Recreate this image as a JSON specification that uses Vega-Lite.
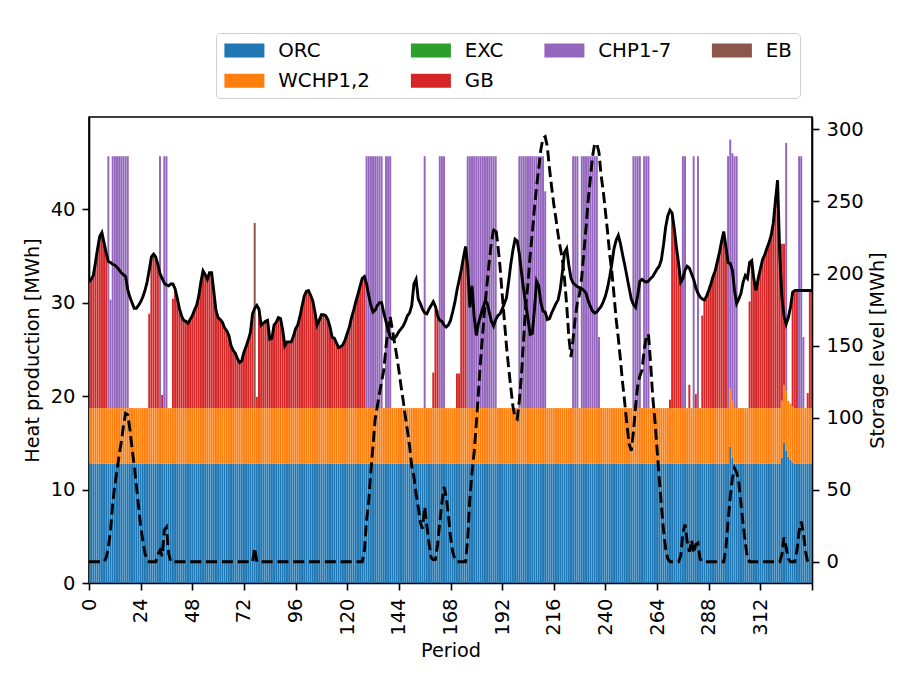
{
  "$schema": "https://vega.github.io/schema/vega-lite/v6.json",
  "width": 723,
  "height": 466,
  "autosize": {"type": "none"},
  "padding": {"left": 89, "top": 117, "right": 101, "bottom": 102},
  "background": "white",
  "data": {
    "values": [
      {"t":0,"orc":12.75,"wchp":5.97,"gb":13.5,"d":32.2,"s":0},
      {"t":1,"orc":12.75,"wchp":5.97,"gb":13.8,"d":32.5,"s":0},
      {"t":2,"orc":12.75,"wchp":5.97,"gb":14.2,"d":32.9,"s":0},
      {"t":3,"orc":12.75,"wchp":5.97,"gb":15.6,"d":34.3,"s":0},
      {"t":4,"orc":12.75,"wchp":5.97,"gb":17.1,"d":35.8,"s":0},
      {"t":5,"orc":12.75,"wchp":5.97,"gb":18.4,"d":37.1,"s":0},
      {"t":6,"orc":12.75,"wchp":5.97,"gb":18.8,"d":37.5,"s":0},
      {"t":7,"orc":12.75,"wchp":5.97,"gb":17.7,"d":36.4,"s":0},
      {"t":8,"orc":12.75,"wchp":5.97,"gb":16.6,"d":35.3,"s":3},
      {"t":9,"orc":12.75,"wchp":5.97,"chp":26.95,"d":34.4,"s":10},
      {"t":10,"orc":12.75,"wchp":5.97,"chp":11.6,"d":34.3,"s":22},
      {"t":11,"orc":12.75,"wchp":5.97,"chp":26.95,"d":34.1,"s":40},
      {"t":12,"orc":12.75,"wchp":5.97,"chp":26.95,"d":34.0,"s":53},
      {"t":13,"orc":12.75,"wchp":5.97,"chp":26.95,"d":33.8,"s":63},
      {"t":14,"orc":12.75,"wchp":5.97,"chp":26.95,"d":33.5,"s":74},
      {"t":15,"orc":12.75,"wchp":5.97,"chp":26.95,"d":33.2,"s":83},
      {"t":16,"orc":12.75,"wchp":5.97,"chp":26.95,"d":33.0,"s":94},
      {"t":17,"orc":12.75,"wchp":5.97,"chp":26.95,"d":32.8,"s":103},
      {"t":18,"orc":12.75,"wchp":5.97,"chp":26.95,"d":31.4,"s":102},
      {"t":19,"orc":12.75,"wchp":5.97,"d":30.6,"s":92},
      {"t":20,"orc":12.75,"wchp":5.97,"d":30.0,"s":79},
      {"t":21,"orc":12.75,"wchp":5.97,"d":29.4,"s":67},
      {"t":22,"orc":12.75,"wchp":5.97,"d":29.4,"s":53},
      {"t":23,"orc":12.75,"wchp":5.97,"d":29.7,"s":39},
      {"t":24,"orc":12.75,"wchp":5.97,"d":30.1,"s":25},
      {"t":25,"orc":12.75,"wchp":5.97,"d":30.6,"s":15},
      {"t":26,"orc":12.75,"wchp":5.97,"d":31.3,"s":6},
      {"t":27,"orc":12.75,"wchp":5.97,"d":32.2,"s":1},
      {"t":28,"orc":12.75,"wchp":5.97,"gb":10.1,"d":33.5,"s":0},
      {"t":29,"orc":12.75,"wchp":5.97,"gb":16.2,"d":34.9,"s":0},
      {"t":30,"orc":12.75,"wchp":5.97,"gb":16.5,"d":35.2,"s":0},
      {"t":31,"orc":12.75,"wchp":5.97,"gb":16.2,"d":34.9,"s":0},
      {"t":32,"orc":12.75,"wchp":5.97,"gb":15.4,"d":34.1,"s":5},
      {"t":33,"orc":12.75,"wchp":5.97,"chp":26.95,"d":33.1,"s":8},
      {"t":34,"orc":12.75,"wchp":5.97,"gb":1.4,"d":32.6,"s":4},
      {"t":35,"orc":12.75,"wchp":5.97,"chp":26.95,"d":32.1,"s":22},
      {"t":36,"orc":12.75,"wchp":5.97,"chp":26.95,"d":31.9,"s":24},
      {"t":37,"orc":12.75,"wchp":5.97,"d":31.8,"s":6},
      {"t":38,"orc":12.75,"wchp":5.97,"d":32.0,"s":0},
      {"t":39,"orc":12.75,"wchp":5.97,"gb":11.7,"d":32.0,"s":0},
      {"t":40,"orc":12.75,"wchp":5.97,"gb":12.8,"d":31.5,"s":0},
      {"t":41,"orc":12.75,"wchp":5.97,"gb":11.8,"d":30.5,"s":0},
      {"t":42,"orc":12.75,"wchp":5.97,"gb":10.7,"d":29.4,"s":0},
      {"t":43,"orc":12.75,"wchp":5.97,"gb":9.9,"d":28.6,"s":0},
      {"t":44,"orc":12.75,"wchp":5.97,"gb":9.4,"d":28.1,"s":0},
      {"t":45,"orc":12.75,"wchp":5.97,"gb":9.3,"d":28.0,"s":0},
      {"t":46,"orc":12.75,"wchp":5.97,"gb":9.1,"d":27.8,"s":0},
      {"t":47,"orc":12.75,"wchp":5.97,"gb":9.5,"d":28.2,"s":0},
      {"t":48,"orc":12.75,"wchp":5.97,"gb":9.9,"d":28.6,"s":0},
      {"t":49,"orc":12.75,"wchp":5.97,"gb":10.5,"d":29.2,"s":0},
      {"t":50,"orc":12.75,"wchp":5.97,"gb":11.0,"d":29.7,"s":0},
      {"t":51,"orc":12.75,"wchp":5.97,"gb":12.0,"d":30.7,"s":0},
      {"t":52,"orc":12.75,"wchp":5.97,"gb":13.5,"d":32.2,"s":0},
      {"t":53,"orc":12.75,"wchp":5.97,"gb":14.7,"d":33.4,"s":0},
      {"t":54,"orc":12.75,"wchp":5.97,"gb":14.3,"d":33.0,"s":0},
      {"t":55,"orc":12.75,"wchp":5.97,"gb":13.8,"d":32.5,"s":0},
      {"t":56,"orc":12.75,"wchp":5.97,"gb":14.5,"d":33.2,"s":0},
      {"t":57,"orc":12.75,"wchp":5.97,"gb":14.5,"d":33.2,"s":0},
      {"t":58,"orc":12.75,"wchp":5.97,"gb":12.5,"d":31.2,"s":0},
      {"t":59,"orc":12.75,"wchp":5.97,"gb":10.5,"d":29.2,"s":0},
      {"t":60,"orc":12.75,"wchp":5.97,"gb":9.7,"d":28.4,"s":0},
      {"t":61,"orc":12.75,"wchp":5.97,"gb":9.5,"d":28.2,"s":0},
      {"t":62,"orc":12.75,"wchp":5.97,"gb":9.2,"d":27.9,"s":0},
      {"t":63,"orc":12.75,"wchp":5.97,"gb":8.6,"d":27.3,"s":0},
      {"t":64,"orc":12.75,"wchp":5.97,"gb":8.3,"d":27.0,"s":0},
      {"t":65,"orc":12.75,"wchp":5.97,"gb":7.8,"d":26.5,"s":0},
      {"t":66,"orc":12.75,"wchp":5.97,"gb":6.7,"d":25.4,"s":0},
      {"t":67,"orc":12.75,"wchp":5.97,"gb":6.2,"d":24.9,"s":0},
      {"t":68,"orc":12.75,"wchp":5.97,"gb":5.9,"d":24.6,"s":0},
      {"t":69,"orc":12.75,"wchp":5.97,"gb":5.3,"d":24.0,"s":0},
      {"t":70,"orc":12.75,"wchp":5.97,"gb":4.9,"d":23.6,"s":0},
      {"t":71,"orc":12.75,"wchp":5.97,"gb":5.1,"d":23.8,"s":0},
      {"t":72,"orc":12.75,"wchp":5.97,"gb":6.0,"d":24.7,"s":0},
      {"t":73,"orc":12.75,"wchp":5.97,"gb":6.6,"d":25.3,"s":0},
      {"t":74,"orc":12.75,"wchp":5.97,"gb":7.3,"d":26.0,"s":0},
      {"t":75,"orc":12.75,"wchp":5.97,"gb":8.1,"d":26.8,"s":0},
      {"t":76,"orc":12.75,"wchp":5.97,"gb":10.1,"d":28.8,"s":0},
      {"t":77,"orc":12.75,"wchp":5.97,"eb":19.8,"d":29.4,"s":9.5},
      {"t":78,"orc":12.75,"wchp":5.97,"gb":1.2,"d":29.7,"s":0},
      {"t":79,"orc":12.75,"wchp":5.97,"gb":10.6,"d":29.3,"s":0},
      {"t":80,"orc":12.75,"wchp":5.97,"gb":8.9,"d":27.6,"s":0},
      {"t":81,"orc":12.75,"wchp":5.97,"gb":9.1,"d":27.8,"s":0},
      {"t":82,"orc":12.75,"wchp":5.97,"gb":9.3,"d":28.0,"s":0},
      {"t":83,"orc":12.75,"wchp":5.97,"gb":9.4,"d":28.1,"s":0},
      {"t":84,"orc":12.75,"wchp":5.97,"gb":7.4,"d":26.1,"s":0},
      {"t":85,"orc":12.75,"wchp":5.97,"gb":7.5,"d":26.2,"s":0},
      {"t":86,"orc":12.75,"wchp":5.97,"gb":8.9,"d":27.6,"s":0},
      {"t":87,"orc":12.75,"wchp":5.97,"gb":9.2,"d":27.9,"s":0},
      {"t":88,"orc":12.75,"wchp":5.97,"gb":9.7,"d":28.4,"s":0},
      {"t":89,"orc":12.75,"wchp":5.97,"gb":9.6,"d":28.3,"s":0},
      {"t":90,"orc":12.75,"wchp":5.97,"gb":8.4,"d":27.1,"s":0},
      {"t":91,"orc":12.75,"wchp":5.97,"gb":6.7,"d":25.4,"s":0},
      {"t":92,"orc":12.75,"wchp":5.97,"gb":7.1,"d":25.8,"s":0},
      {"t":93,"orc":12.75,"wchp":5.97,"gb":7.1,"d":25.8,"s":0},
      {"t":94,"orc":12.75,"wchp":5.97,"gb":7.1,"d":25.8,"s":0},
      {"t":95,"orc":12.75,"wchp":5.97,"gb":7.7,"d":26.4,"s":0},
      {"t":96,"orc":12.75,"wchp":5.97,"gb":8.5,"d":27.2,"s":0},
      {"t":97,"orc":12.75,"wchp":5.97,"gb":8.9,"d":27.6,"s":0},
      {"t":98,"orc":12.75,"wchp":5.97,"gb":9.8,"d":28.5,"s":0},
      {"t":99,"orc":12.75,"wchp":5.97,"gb":10.9,"d":29.6,"s":0},
      {"t":100,"orc":12.75,"wchp":5.97,"gb":12.0,"d":30.7,"s":0},
      {"t":101,"orc":12.75,"wchp":5.97,"gb":12.5,"d":31.2,"s":0},
      {"t":102,"orc":12.75,"wchp":5.97,"gb":12.6,"d":31.3,"s":0},
      {"t":103,"orc":12.75,"wchp":5.97,"gb":12.1,"d":30.8,"s":0},
      {"t":104,"orc":12.75,"wchp":5.97,"gb":11.5,"d":30.2,"s":0},
      {"t":105,"orc":12.75,"wchp":5.97,"gb":10.3,"d":29.0,"s":0},
      {"t":106,"orc":12.75,"wchp":5.97,"gb":8.9,"d":27.6,"s":0},
      {"t":107,"orc":12.75,"wchp":5.97,"gb":9.4,"d":28.1,"s":0},
      {"t":108,"orc":12.75,"wchp":5.97,"gb":10.0,"d":28.7,"s":0},
      {"t":109,"orc":12.75,"wchp":5.97,"gb":10.0,"d":28.7,"s":0},
      {"t":110,"orc":12.75,"wchp":5.97,"gb":9.9,"d":28.6,"s":0},
      {"t":111,"orc":12.75,"wchp":5.97,"gb":9.5,"d":28.2,"s":0},
      {"t":112,"orc":12.75,"wchp":5.97,"gb":8.7,"d":27.4,"s":0},
      {"t":113,"orc":12.75,"wchp":5.97,"gb":7.6,"d":26.3,"s":0},
      {"t":114,"orc":12.75,"wchp":5.97,"gb":7.5,"d":26.2,"s":0},
      {"t":115,"orc":12.75,"wchp":5.97,"gb":7.0,"d":25.7,"s":0},
      {"t":116,"orc":12.75,"wchp":5.97,"gb":6.5,"d":25.2,"s":0},
      {"t":117,"orc":12.75,"wchp":5.97,"gb":6.6,"d":25.3,"s":0},
      {"t":118,"orc":12.75,"wchp":5.97,"gb":6.8,"d":25.5,"s":0},
      {"t":119,"orc":12.75,"wchp":5.97,"gb":7.3,"d":26.0,"s":0},
      {"t":120,"orc":12.75,"wchp":5.97,"gb":8.0,"d":26.7,"s":0},
      {"t":121,"orc":12.75,"wchp":5.97,"gb":8.7,"d":27.4,"s":0},
      {"t":122,"orc":12.75,"wchp":5.97,"gb":9.7,"d":28.4,"s":0},
      {"t":123,"orc":12.75,"wchp":5.97,"gb":10.5,"d":29.2,"s":0},
      {"t":124,"orc":12.75,"wchp":5.97,"gb":11.4,"d":30.1,"s":0},
      {"t":125,"orc":12.75,"wchp":5.97,"gb":12.2,"d":30.9,"s":0},
      {"t":126,"orc":12.75,"wchp":5.97,"gb":13.1,"d":31.8,"s":0},
      {"t":127,"orc":12.75,"wchp":5.97,"gb":13.9,"d":32.6,"s":0},
      {"t":128,"orc":12.75,"wchp":5.97,"gb":14.1,"d":32.8,"s":8},
      {"t":129,"orc":12.75,"wchp":5.97,"chp":26.95,"d":32.0,"s":29},
      {"t":130,"orc":12.75,"wchp":5.97,"chp":26.95,"d":30.8,"s":42},
      {"t":131,"orc":12.75,"wchp":5.97,"chp":26.95,"d":29.7,"s":63},
      {"t":132,"orc":12.75,"wchp":5.97,"chp":26.95,"d":29.0,"s":81},
      {"t":133,"orc":12.75,"wchp":5.97,"chp":26.95,"d":29.2,"s":99},
      {"t":134,"orc":12.75,"wchp":5.97,"chp":26.95,"d":29.7,"s":108},
      {"t":135,"orc":12.75,"wchp":5.97,"chp":26.95,"d":30.0,"s":117},
      {"t":136,"orc":12.75,"wchp":5.97,"chp":26.95,"d":30.0,"s":125},
      {"t":137,"orc":12.75,"wchp":5.97,"d":28.9,"s":133},
      {"t":138,"orc":12.75,"wchp":5.97,"chp":26.95,"d":28.0,"s":149},
      {"t":139,"orc":12.75,"wchp":5.97,"chp":26.95,"d":27.1,"s":161},
      {"t":140,"orc":12.75,"wchp":5.97,"chp":26.95,"d":26.3,"s":170},
      {"t":141,"orc":12.75,"wchp":5.97,"d":26.1,"s":161},
      {"t":142,"orc":12.75,"wchp":5.97,"d":26.2,"s":152},
      {"t":143,"orc":12.75,"wchp":5.97,"d":26.5,"s":143},
      {"t":144,"orc":12.75,"wchp":5.97,"d":26.9,"s":133},
      {"t":145,"orc":12.75,"wchp":5.97,"d":27.2,"s":122},
      {"t":146,"orc":12.75,"wchp":5.97,"d":27.5,"s":112},
      {"t":147,"orc":12.75,"wchp":5.97,"d":28.0,"s":101},
      {"t":148,"orc":12.75,"wchp":5.97,"d":28.6,"s":91},
      {"t":149,"orc":12.75,"wchp":5.97,"d":28.9,"s":80},
      {"t":150,"orc":12.75,"wchp":5.97,"d":29.7,"s":66},
      {"t":151,"orc":12.75,"wchp":5.97,"d":32.0,"s":59},
      {"t":152,"orc":12.75,"wchp":5.97,"d":32.5,"s":47},
      {"t":153,"orc":12.75,"wchp":5.97,"d":30.4,"s":38},
      {"t":154,"orc":12.75,"wchp":5.97,"d":29.9,"s":27},
      {"t":155,"orc":12.75,"wchp":5.97,"d":29.3,"s":23},
      {"t":156,"orc":12.75,"wchp":5.97,"chp":26.95,"d":28.9,"s":38},
      {"t":157,"orc":12.75,"wchp":5.97,"d":28.8,"s":25},
      {"t":158,"orc":12.75,"wchp":5.97,"d":29.3,"s":13},
      {"t":159,"orc":12.75,"wchp":5.97,"d":29.7,"s":3},
      {"t":160,"orc":12.75,"wchp":5.97,"gb":3.8,"d":30.1,"s":1.5},
      {"t":161,"orc":12.75,"wchp":5.97,"gb":10.5,"d":29.6,"s":1.6},
      {"t":162,"orc":12.75,"wchp":5.97,"gb":10.5,"d":28.6,"s":12},
      {"t":163,"orc":12.75,"wchp":5.97,"chp":26.95,"d":28.1,"s":27},
      {"t":164,"orc":12.75,"wchp":5.97,"chp":26.95,"d":28.0,"s":41},
      {"t":165,"orc":12.75,"wchp":5.97,"chp":26.95,"d":27.6,"s":52},
      {"t":166,"orc":12.75,"wchp":5.97,"d":27.4,"s":45},
      {"t":167,"orc":12.75,"wchp":5.97,"d":27.6,"s":33},
      {"t":168,"orc":12.75,"wchp":5.97,"d":28.1,"s":17},
      {"t":169,"orc":12.75,"wchp":5.97,"d":29.0,"s":7},
      {"t":170,"orc":12.75,"wchp":5.97,"d":30.0,"s":2},
      {"t":171,"orc":12.75,"wchp":5.97,"gb":3.7,"d":31.3,"s":0},
      {"t":172,"orc":12.75,"wchp":5.97,"gb":3.7,"d":32.4,"s":0},
      {"t":173,"orc":12.75,"wchp":5.97,"gb":14.8,"d":33.5,"s":0},
      {"t":174,"orc":12.75,"wchp":5.97,"gb":16.1,"d":34.8,"s":0},
      {"t":175,"orc":12.75,"wchp":5.97,"gb":17.3,"d":36.0,"s":0},
      {"t":176,"orc":12.75,"wchp":5.97,"chp":26.95,"d":33.8,"s":16},
      {"t":177,"orc":12.75,"wchp":5.97,"chp":26.95,"d":29.5,"s":44},
      {"t":178,"orc":12.75,"wchp":5.97,"chp":26.95,"d":31.8,"s":62},
      {"t":179,"orc":12.75,"wchp":5.97,"chp":26.95,"d":28.5,"s":76},
      {"t":180,"orc":12.75,"wchp":5.97,"chp":26.95,"d":26.5,"s":96},
      {"t":181,"orc":12.75,"wchp":5.97,"chp":26.95,"d":27.8,"s":118},
      {"t":182,"orc":12.75,"wchp":5.97,"chp":26.95,"d":28.6,"s":140},
      {"t":183,"orc":12.75,"wchp":5.97,"chp":26.95,"d":29.4,"s":159},
      {"t":184,"orc":12.75,"wchp":5.97,"chp":26.95,"d":30.1,"s":178},
      {"t":185,"orc":12.75,"wchp":5.97,"chp":26.95,"d":30.0,"s":193},
      {"t":186,"orc":12.75,"wchp":5.97,"chp":26.95,"d":29.0,"s":208},
      {"t":187,"orc":12.75,"wchp":5.97,"chp":26.95,"d":28.0,"s":222},
      {"t":188,"orc":12.75,"wchp":5.97,"chp":26.95,"d":27.5,"s":230},
      {"t":189,"orc":12.75,"wchp":5.97,"chp":26.95,"d":28.2,"s":232},
      {"t":190,"orc":12.75,"wchp":5.97,"d":28.6,"s":220},
      {"t":191,"orc":12.75,"wchp":5.97,"d":28.8,"s":205},
      {"t":192,"orc":12.75,"wchp":5.97,"d":29.3,"s":186},
      {"t":193,"orc":12.75,"wchp":5.97,"d":29.9,"s":168},
      {"t":194,"orc":12.75,"wchp":5.97,"d":30.5,"s":150},
      {"t":195,"orc":12.75,"wchp":5.97,"d":32.2,"s":135},
      {"t":196,"orc":12.75,"wchp":5.97,"d":34.1,"s":121},
      {"t":197,"orc":12.75,"wchp":5.97,"d":35.6,"s":108},
      {"t":198,"orc":12.75,"wchp":5.97,"d":36.8,"s":100},
      {"t":199,"orc":12.75,"wchp":5.97,"d":36.6,"s":99},
      {"t":200,"orc":12.75,"wchp":5.97,"chp":26.95,"d":35.2,"s":112},
      {"t":201,"orc":12.75,"wchp":5.97,"chp":26.95,"d":33.2,"s":130},
      {"t":202,"orc":12.75,"wchp":5.97,"chp":26.95,"d":31.4,"s":155},
      {"t":203,"orc":12.75,"wchp":5.97,"chp":26.95,"d":29.8,"s":178},
      {"t":204,"orc":12.75,"wchp":5.97,"chp":26.95,"d":28.3,"s":193},
      {"t":205,"orc":12.75,"wchp":5.97,"chp":26.95,"d":26.6,"s":212},
      {"t":206,"orc":12.75,"wchp":5.97,"chp":26.95,"d":26.7,"s":228},
      {"t":207,"orc":12.75,"wchp":5.97,"chp":26.95,"d":29.2,"s":245},
      {"t":208,"orc":12.75,"wchp":5.97,"chp":26.95,"d":32.3,"s":260},
      {"t":209,"orc":12.75,"wchp":5.97,"chp":26.95,"d":31.8,"s":273},
      {"t":210,"orc":12.75,"wchp":5.97,"chp":26.95,"d":30.0,"s":286},
      {"t":211,"orc":12.75,"wchp":5.97,"chp":26.95,"d":29.1,"s":294},
      {"t":212,"orc":12.75,"wchp":5.97,"chp":23.2,"d":29.0,"s":295},
      {"t":213,"orc":12.75,"wchp":5.97,"d":28.2,"s":288},
      {"t":214,"orc":12.75,"wchp":5.97,"d":28.3,"s":273},
      {"t":215,"orc":12.75,"wchp":5.97,"d":28.9,"s":260},
      {"t":216,"orc":12.75,"wchp":5.97,"d":29.4,"s":248},
      {"t":217,"orc":12.75,"wchp":5.97,"d":29.9,"s":238},
      {"t":218,"orc":12.75,"wchp":5.97,"d":30.3,"s":227},
      {"t":219,"orc":12.75,"wchp":5.97,"d":31.4,"s":218},
      {"t":220,"orc":12.75,"wchp":5.97,"d":33.3,"s":210},
      {"t":221,"orc":12.75,"wchp":5.97,"d":35.4,"s":196},
      {"t":222,"orc":12.75,"wchp":5.97,"d":35.8,"s":178},
      {"t":223,"orc":12.75,"wchp":5.97,"d":34.0,"s":156},
      {"t":224,"orc":12.75,"wchp":5.97,"d":32.6,"s":142},
      {"t":225,"orc":12.75,"wchp":5.97,"chp":26.95,"d":32.1,"s":155},
      {"t":226,"orc":12.75,"wchp":5.97,"chp":26.95,"d":31.9,"s":170},
      {"t":227,"orc":12.75,"wchp":5.97,"chp":26.95,"d":31.7,"s":180},
      {"t":228,"orc":12.75,"wchp":5.97,"d":31.6,"s":186},
      {"t":229,"orc":12.75,"wchp":5.97,"chp":26.95,"d":31.5,"s":198},
      {"t":230,"orc":12.75,"wchp":5.97,"chp":26.95,"d":31.3,"s":215},
      {"t":231,"orc":12.75,"wchp":5.97,"chp":26.95,"d":31.0,"s":232},
      {"t":232,"orc":12.75,"wchp":5.97,"chp":26.95,"d":30.2,"s":251},
      {"t":233,"orc":12.75,"wchp":5.97,"chp":26.95,"d":29.6,"s":266},
      {"t":234,"orc":12.75,"wchp":5.97,"chp":26.95,"d":29.1,"s":281},
      {"t":235,"orc":12.75,"wchp":5.97,"chp":26.95,"d":28.9,"s":290},
      {"t":236,"orc":12.75,"wchp":5.97,"chp":26.95,"d":29.0,"s":290},
      {"t":237,"orc":12.75,"wchp":5.97,"chp":7.6,"d":29.3,"s":284},
      {"t":238,"orc":12.75,"wchp":5.97,"d":29.6,"s":268},
      {"t":239,"orc":12.75,"wchp":5.97,"d":30.1,"s":257},
      {"t":240,"orc":12.75,"wchp":5.97,"d":30.7,"s":243},
      {"t":241,"orc":12.75,"wchp":5.97,"d":31.6,"s":229},
      {"t":242,"orc":12.75,"wchp":5.97,"d":32.8,"s":213},
      {"t":243,"orc":12.75,"wchp":5.97,"d":34.2,"s":201},
      {"t":244,"orc":12.75,"wchp":5.97,"d":35.8,"s":185},
      {"t":245,"orc":12.75,"wchp":5.97,"d":36.7,"s":168},
      {"t":246,"orc":12.75,"wchp":5.97,"d":37.2,"s":155},
      {"t":247,"orc":12.75,"wchp":5.97,"d":36.3,"s":140},
      {"t":248,"orc":12.75,"wchp":5.97,"d":35.1,"s":124},
      {"t":249,"orc":12.75,"wchp":5.97,"d":34.0,"s":110},
      {"t":250,"orc":12.75,"wchp":5.97,"d":32.8,"s":95},
      {"t":251,"orc":12.75,"wchp":5.97,"d":31.6,"s":82},
      {"t":252,"orc":12.75,"wchp":5.97,"d":30.4,"s":77},
      {"t":253,"orc":12.75,"wchp":5.97,"chp":26.95,"d":29.8,"s":90},
      {"t":254,"orc":12.75,"wchp":5.97,"chp":26.95,"d":29.5,"s":108},
      {"t":255,"orc":12.75,"wchp":5.97,"chp":26.95,"d":30.8,"s":122},
      {"t":256,"orc":12.75,"wchp":5.97,"chp":26.95,"d":32.3,"s":129},
      {"t":257,"orc":12.75,"wchp":5.97,"d":32.5,"s":133},
      {"t":258,"orc":12.75,"wchp":5.97,"chp":26.95,"d":32.3,"s":147},
      {"t":259,"orc":12.75,"wchp":5.97,"chp":26.95,"d":32.2,"s":156},
      {"t":260,"orc":12.75,"wchp":5.97,"chp":26.95,"d":32.3,"s":158},
      {"t":261,"orc":12.75,"wchp":5.97,"d":32.6,"s":138},
      {"t":262,"orc":12.75,"wchp":5.97,"d":32.8,"s":114},
      {"t":263,"orc":12.75,"wchp":5.97,"d":33.2,"s":98},
      {"t":264,"orc":12.75,"wchp":5.97,"d":33.6,"s":78},
      {"t":265,"orc":12.75,"wchp":5.97,"d":33.9,"s":58},
      {"t":266,"orc":12.75,"wchp":5.97,"d":34.6,"s":39},
      {"t":267,"orc":12.75,"wchp":5.97,"d":36.2,"s":22},
      {"t":268,"orc":12.75,"wchp":5.97,"d":38.1,"s":9},
      {"t":269,"orc":12.75,"wchp":5.97,"d":39.3,"s":2},
      {"t":270,"orc":12.75,"wchp":5.97,"gb":0.9,"d":39.9,"s":0},
      {"t":271,"orc":12.75,"wchp":5.97,"gb":20.9,"d":39.6,"s":0},
      {"t":272,"orc":12.75,"wchp":5.97,"gb":19.2,"d":37.9,"s":0},
      {"t":273,"orc":12.75,"wchp":5.97,"gb":17.2,"d":35.9,"s":0},
      {"t":274,"orc":12.75,"wchp":5.97,"gb":15.5,"d":34.2,"s":0},
      {"t":275,"orc":12.75,"wchp":5.97,"gb":13.5,"d":32.2,"s":4},
      {"t":276,"orc":12.75,"wchp":5.97,"chp":26.95,"d":32.6,"s":20},
      {"t":277,"orc":12.75,"wchp":5.97,"chp":26.95,"d":33.5,"s":26},
      {"t":278,"orc":12.75,"wchp":5.97,"d":33.9,"s":14},
      {"t":279,"orc":12.75,"wchp":5.97,"gb":2.5,"d":33.7,"s":7},
      {"t":280,"orc":12.75,"wchp":5.97,"d":33.1,"s":15},
      {"t":281,"orc":12.75,"wchp":5.97,"chp":26.95,"d":32.5,"s":6},
      {"t":282,"orc":12.75,"wchp":5.97,"gb":1.5,"d":31.6,"s":12},
      {"t":283,"orc":12.75,"wchp":5.97,"chp":26.95,"d":31.0,"s":13},
      {"t":284,"orc":12.75,"wchp":5.97,"d":30.6,"s":2},
      {"t":285,"orc":12.75,"wchp":5.97,"gb":9.9,"d":30.4,"s":0},
      {"t":286,"orc":12.75,"wchp":5.97,"gb":11.6,"d":30.3,"s":0},
      {"t":287,"orc":12.75,"wchp":5.97,"gb":12.0,"d":30.7,"s":0},
      {"t":288,"orc":12.75,"wchp":5.97,"gb":12.6,"d":31.3,"s":0},
      {"t":289,"orc":12.75,"wchp":5.97,"gb":13.3,"d":32.0,"s":0},
      {"t":290,"orc":12.75,"wchp":5.97,"gb":14.1,"d":32.8,"s":0},
      {"t":291,"orc":12.75,"wchp":5.97,"gb":14.7,"d":33.4,"s":0},
      {"t":292,"orc":12.75,"wchp":5.97,"gb":15.7,"d":34.4,"s":0},
      {"t":293,"orc":12.75,"wchp":5.97,"gb":16.7,"d":35.4,"s":0},
      {"t":294,"orc":12.75,"wchp":5.97,"gb":17.9,"d":36.6,"s":0},
      {"t":295,"orc":12.75,"wchp":5.97,"gb":18.9,"d":37.6,"s":0},
      {"t":296,"orc":12.75,"wchp":5.97,"gb":17.3,"d":36.0,"s":10},
      {"t":297,"orc":12.75,"wchp":5.97,"chp":26.95,"d":34.3,"s":28},
      {"t":298,"orc":14.6,"wchp":6.2,"chp":26.65,"d":34.2,"s":45},
      {"t":299,"orc":13.4,"wchp":6.1,"chp":26.5,"d":33.5,"s":58},
      {"t":300,"orc":12.75,"wchp":5.97,"chp":26.95,"d":31.3,"s":65},
      {"t":301,"orc":12.75,"wchp":5.97,"chp":26.95,"d":29.9,"s":62},
      {"t":302,"orc":12.75,"wchp":5.97,"d":30.4,"s":55},
      {"t":303,"orc":12.75,"wchp":5.97,"d":31.0,"s":40},
      {"t":304,"orc":12.75,"wchp":5.97,"d":32.2,"s":26},
      {"t":305,"orc":12.75,"wchp":5.97,"d":32.9,"s":13},
      {"t":306,"orc":12.75,"wchp":5.97,"d":32.6,"s":3},
      {"t":307,"orc":12.75,"wchp":5.97,"gb":11.4,"d":34.3,"s":0},
      {"t":308,"orc":12.75,"wchp":5.97,"gb":15.8,"d":34.5,"s":0},
      {"t":309,"orc":12.75,"wchp":5.97,"gb":13.8,"d":32.5,"s":0},
      {"t":310,"orc":12.75,"wchp":5.97,"gb":12.6,"d":31.3,"s":0},
      {"t":311,"orc":12.75,"wchp":5.97,"gb":13.9,"d":32.6,"s":0},
      {"t":312,"orc":12.75,"wchp":5.97,"gb":14.9,"d":33.6,"s":0},
      {"t":313,"orc":12.75,"wchp":5.97,"gb":15.9,"d":34.6,"s":0},
      {"t":314,"orc":12.75,"wchp":5.97,"gb":16.4,"d":35.1,"s":0},
      {"t":315,"orc":12.75,"wchp":5.97,"gb":17.1,"d":35.8,"s":0},
      {"t":316,"orc":12.75,"wchp":5.97,"gb":17.7,"d":36.4,"s":0},
      {"t":317,"orc":12.75,"wchp":5.97,"gb":18.5,"d":37.2,"s":0},
      {"t":318,"orc":12.75,"wchp":5.97,"gb":19.8,"d":38.5,"s":0},
      {"t":319,"orc":12.75,"wchp":5.97,"gb":22.2,"d":40.9,"s":0},
      {"t":320,"orc":12.75,"wchp":5.97,"gb":24.4,"d":43.1,"s":0},
      {"t":321,"orc":12.75,"wchp":5.97,"gb":17.6,"d":35.3,"s":0},
      {"t":322,"orc":13.4,"wchp":6.1,"gb":16.8,"d":30.6,"s":5},
      {"t":323,"orc":15.0,"wchp":6.2,"gb":15.1,"d":28.6,"s":17},
      {"t":324,"orc":14.2,"wchp":6.3,"chp":26.6,"d":27.7,"s":10},
      {"t":325,"orc":13.5,"wchp":6.0,"d":28.4,"s":2},
      {"t":326,"orc":13.2,"wchp":6.0,"d":29.5,"s":0},
      {"t":327,"orc":12.9,"wchp":6.0,"gb":12.4,"d":31.1,"s":0},
      {"t":328,"orc":12.75,"wchp":5.97,"gb":12.6,"d":31.3,"s":0},
      {"t":329,"orc":12.75,"wchp":5.97,"gb":12.6,"d":31.3,"s":8},
      {"t":330,"orc":12.75,"wchp":5.97,"chp":26.95,"d":31.3,"s":21},
      {"t":331,"orc":12.75,"wchp":5.97,"chp":26.95,"d":31.3,"s":28},
      {"t":332,"orc":12.75,"wchp":5.97,"chp":7.6,"d":31.3,"s":20},
      {"t":333,"orc":12.75,"wchp":5.97,"d":31.3,"s":7},
      {"t":334,"orc":12.75,"wchp":5.97,"gb":1.6,"d":31.3,"s":0},
      {"t":335,"orc":12.75,"wchp":5.97,"gb":12.6,"d":31.3,"s":0},
      {"t":336,"orc":12.75,"wchp":5.97,"gb":12.6,"d":31.3,"s":0}
    ]
  },
  "layer": [
    {
      "transform": [
        {"fold": ["orc", "wchp", "exc", "gb", "chp", "eb"], "as": ["key", "value"]},
        {"filter": "datum.value > 0"},
        {"calculate": "indexof(['orc','wchp','exc','gb','chp','eb'], datum.key)", "as": "k"}
      ],
      "mark": {"type": "bar", "width": 1.97, "orient": "vertical", "clip": true},
      "encoding": {
        "x": {
          "field": "t",
          "type": "quantitative",
          "scale": {"domain": [0, 336], "nice": false, "zero": false, "padding": 0},
          "axis": {
            "values": [0, 24, 48, 72, 96, 120, 144, 168, 192, 216, 240, 264, 288, 312, 336],
            "labelExpr": "datum.value == 336 ? '' : datum.label",
            "labelAngle": 270,
            "labelAlign": "right",
            "labelBaseline": "middle",
            "labelPadding": 8,
            "labelOverlap": false,
            "labelFlush": false,
            "title": "Period",
            "titlePadding": 6
          }
        },
        "y": {
          "field": "value",
          "type": "quantitative",
          "stack": "zero",
          "scale": {"domain": [0, 49.87], "nice": false, "padding": 0},
          "axis": {
            "values": [0, 10, 20, 30, 40],
            "labelFlush": false,
            "labelPadding": 7,
            "title": "Heat production [MWh]",
            "titlePadding": 8
          }
        },
        "color": {
          "field": "key",
          "type": "nominal",
          "scale": {
            "domain": ["orc", "exc", "chp", "eb", "wchp", "gb"],
            "range": ["#1f77b4", "#2ca02c", "#9467bd", "#8c564b", "#ff7f0e", "#d62728"]
          },
          "legend": {
            "orient": "none",
            "legendX": 127,
            "legendY": -84,
            "direction": "horizontal",
            "columns": 4,
            "title": null,
            "symbolType": "M-2.857,-1H2.857V1H-2.857Z",
            "symbolSize": 196,
            "symbolOffset": 11,
            "symbolStrokeWidth": 0,
            "symbolOpacity": 1,
            "labelOffset": 24,
            "labelFontSize": 19.8,
            "labelFont": "DejaVu Sans",
            "labelColor": "black",
            "labelLimit": 400,
            "columnPadding": 39.5,
            "rowPadding": 9.3,
            "padding": 7.5,
            "strokeColor": "#d0d0d0",
            "fillColor": "white",
            "cornerRadius": 4,
            "labelExpr": "datum.label == 'orc' ? 'ORC' : datum.label == 'wchp' ? 'WCHP1,2' : datum.label == 'exc' ? 'EXC' : datum.label == 'gb' ? 'GB' : datum.label == 'chp' ? 'CHP1-7' : 'EB'"
          }
        },
        "order": {"field": "k", "type": "quantitative"}
      }
    },
    {
      "mark": {"type": "line", "color": "black", "strokeWidth": 2.9, "clip": true},
      "encoding": {
        "x": {"field": "t", "type": "quantitative", "scale": {"domain": [0, 336], "nice": false, "zero": false, "padding": 0}},
        "y": {"field": "d", "type": "quantitative", "scale": {"domain": [0, 49.87], "nice": false}, "axis": null}
      }
    },
    {
      "mark": {"type": "line", "color": "black", "strokeWidth": 2.9, "strokeDash": [11, 4.8], "clip": true},
      "encoding": {
        "x": {"field": "t", "type": "quantitative", "scale": {"domain": [0, 336], "nice": false, "zero": false, "padding": 0}},
        "y": {
          "field": "s",
          "type": "quantitative",
          "scale": {"domain": [-14.7, 308.6], "nice": false, "zero": false},
          "axis": {
            "orient": "right",
            "values": [0, 50, 100, 150, 200, 250, 300],
            "labelFlush": false,
            "labelPadding": 7,
            "title": "Storage level [MWh]",
            "titleAngle": 270,
            "titleBaseline": "top",
            "titlePadding": 5
          }
        }
      }
    }
  ],
  "resolve": {"scale": {"y": "independent"}, "axis": {"y": "independent"}},
  "config": {
    "font": "DejaVu Sans",
    "view": {"stroke": "black", "strokeWidth": 1.6},
    "axis": {
      "domainColor": "black",
      "domainWidth": 1.6,
      "tickColor": "black",
      "tickWidth": 1.6,
      "tickSize": 7,
      "grid": false,
      "labelColor": "black",
      "labelFont": "DejaVu Sans",
      "labelFontSize": 19.5,
      "titleFont": "DejaVu Sans",
      "titleFontSize": 19.3,
      "titleFontWeight": "normal",
      "titleColor": "black"
    }
  }
}
